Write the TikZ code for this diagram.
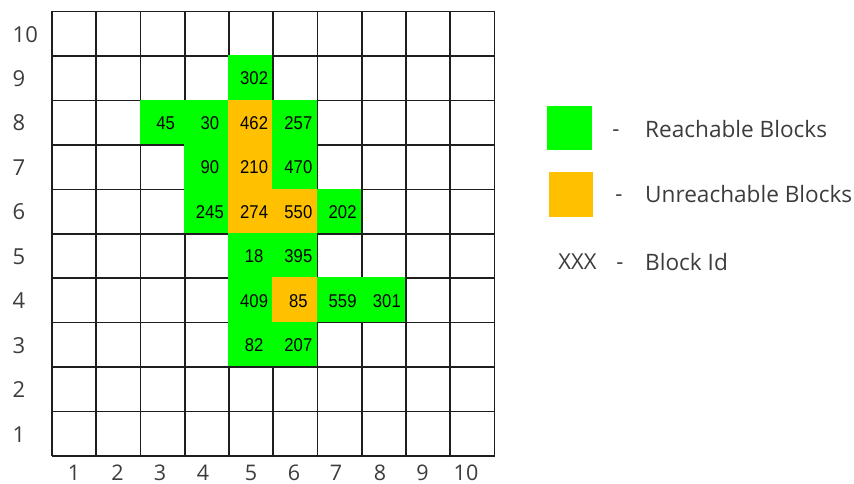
\documentclass[tikz,border=0pt]{standalone}
\usepackage{fontspec}
\setmainfont{Open Sans}
\newfontfamily\cellfont[FakeStretch=0.9]{Liberation Sans}
\definecolor{reach}{HTML}{00FF00}
\definecolor{unreach}{HTML}{FFC000}
\definecolor{gridc}{HTML}{1E1E1E}
\definecolor{labc}{HTML}{3C3C3C}
\tikzset{
  gridline/.style={draw=gridc, line width=1.6pt},
  cellnum/.style={font=\cellfont\fontsize{18.5}{18.5}\selectfont, text=black, inner sep=0pt, text height=13.25pt, text depth=0pt},
  axislab/.style={font=\fontsize{22}{22}\selectfont, text=labc, inner sep=0pt, text height=15.7pt, text depth=0pt},
  collab/.style={font=\fontsize{21.5}{21.5}\selectfont, text=labc, inner sep=0pt, text height=15.3pt, text depth=0pt},
  dashlab/.style={font=\fontsize{22}{22}\selectfont, text=labc, inner sep=0pt, text height=11.4pt, text depth=0pt},
  legtext/.style={font=\fontsize{22.6}{22.6}\selectfont, text=labc, inner sep=0pt, anchor=west, text height=16.1pt, text depth=0pt},
  legbox/.style={minimum width=44.5pt, minimum height=44.5pt, inner sep=0pt}
}
\begin{document}
\begin{tikzpicture}[x=1pt,y=-1pt]
\useasboundingbox (0,0) rectangle (854,484);
\def\cw{44.25}
\def\ch{44.45}
\def\gx{52}
\def\gy{11.5}
% grid
\foreach \i in {0,...,10} {
  \draw[gridline] ({\gx+\i*\cw},{\gy}) -- ({\gx+\i*\cw},{\gy+10*\ch});
  \draw[gridline] ({\gx},{\gy+\i*\ch}) -- ({\gx+10*\cw},{\gy+\i*\ch});
}
% coloured cells
\foreach \c/\r/\col in {
  5/9/reach,
  3/8/reach, 4/8/reach, 5/8/unreach, 6/8/reach,
  4/7/reach, 5/7/unreach, 6/7/reach,
  4/6/reach, 5/6/unreach, 6/6/unreach, 7/6/reach,
  5/5/reach, 6/5/reach,
  5/4/reach, 6/4/unreach, 7/4/reach, 8/4/reach,
  5/3/reach, 6/3/reach} {
  \fill[\col] ({\gx+(\c-1)*\cw-0.8},{\gy+(10-\r)*\ch-0.8}) rectangle ({\gx+\c*\cw-0.8},{\gy+(11-\r)*\ch-0.8});
}
\foreach \c/\r/\n in {
  5/9/302,
  3/8/45, 4/8/30, 5/8/462, 6/8/257,
  4/7/90, 5/7/210, 6/7/470,
  4/6/245, 5/6/274, 6/6/550, 7/6/202,
  5/5/18, 6/5/395,
  5/4/409, 6/4/85, 7/4/559, 8/4/301,
  5/3/82, 6/3/207} {
  \node[cellnum] (b\n) at ({\gx+(\c-0.5)*\cw+3},{\gy+(10.5-\r)*\ch}) {\n};
}
% axis labels
\foreach \k in {1,...,10} {
  \node[axislab, anchor=west] (row\k) at (12.5,{\gy+(10.5-\k)*\ch+0.5}) {\k};
}
\foreach \k/\xx in {1/74, 2/117.5, 3/160, 4/203, 5/251, 6/294, 7/336, 8/380, 9/422.5, 10/466} {
  \node[collab] (col\k) at (\xx,473) {\k};
}
% legend
\node[legbox, fill=reach] (legG) at (569.5,128) {};
\node[legbox, fill=unreach] (legO) at (571,194.5) {};
\node[dashlab] (dash1) at (616,131) {-};
\node[dashlab] (dash2) at (619,196) {-};
\node[dashlab] (dash3) at (620,264) {-};
\node[legtext] (tR) at (645,129) {Reachable Blocks};
\node[legtext] (tU) at (645,194) {Unreachable Blocks};
\node[axislab] (xxx) at (577.5,262) {XXX};
\node[legtext] (tB) at (645,262) {Block Id};
\end{tikzpicture}
\end{document}
